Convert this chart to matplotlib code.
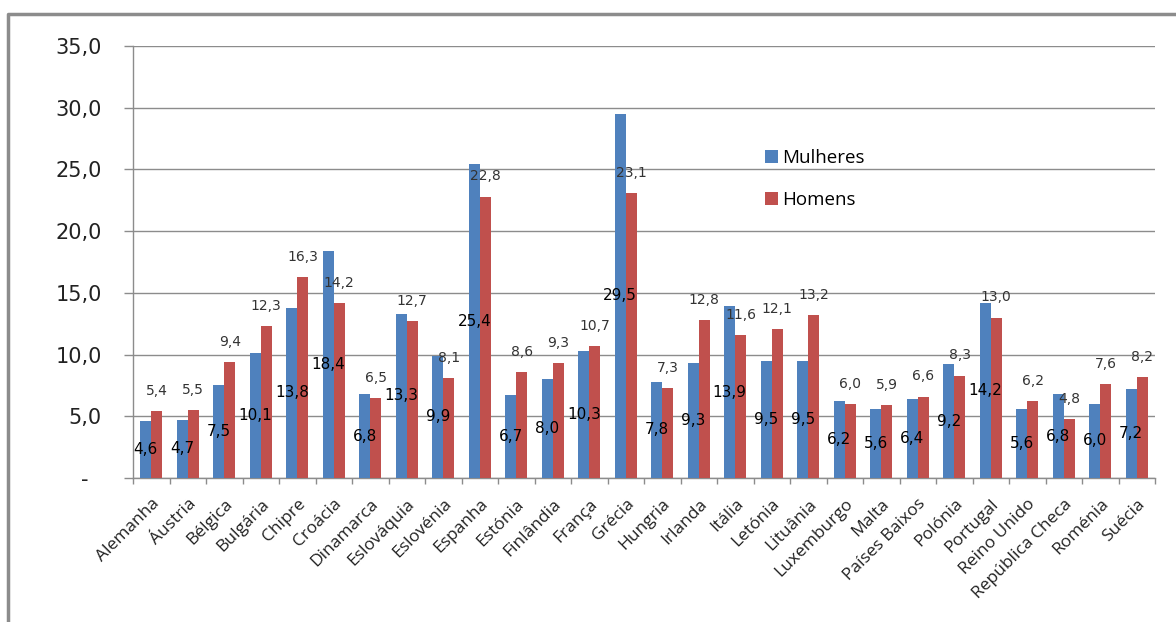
import numpy as np
import matplotlib.pyplot as plt
from matplotlib.lines import Line2D
from matplotlib.ticker import FuncFormatter, MultipleLocator

paises = ['Alemanha', 'Áustria', 'Bélgica', 'Bulgária', 'Chipre', 'Croácia',
          'Dinamarca', 'Eslováquia', 'Eslovénia', 'Espanha', 'Estónia',
          'Finlândia', 'França', 'Grécia', 'Hungria', 'Irlanda', 'Itália',
          'Letónia', 'Lituânia', 'Luxemburgo', 'Malta', 'Países Baixos',
          'Polónia', 'Portugal', 'Reino Unido', 'República Checa', 'Roménia',
          'Suécia']

mulheres = [4.6, 4.7, 7.5, 10.1, 13.8, 18.4, 6.8, 13.3, 9.9, 25.4, 6.7, 8.0,
            10.3, 29.5, 7.8, 9.3, 13.9, 9.5, 9.5, 6.2, 5.6, 6.4, 9.2, 14.2,
            5.6, 6.8, 6.0, 7.2]

homens = [5.4, 5.5, 9.4, 12.3, 16.3, 14.2, 6.5, 12.7, 8.1, 22.8, 8.6, 9.3,
          10.7, 23.1, 7.3, 12.8, 11.6, 12.1, 13.2, 6.0, 5.9, 6.6, 8.3, 13.0,
          6.2, 4.8, 7.6, 8.2]

azul = '#4F81BD'
vermelho = '#C0504D'
cinza = '#8C8C8C'

W, H = 1176, 622
fig = plt.figure(figsize=(W / 100, H / 100), dpi=100)
ax = fig.add_axes([133 / W, 1 - 478 / H, (1155 - 133) / W, (478 - 46) / H])

x = np.arange(len(paises))
larg = 0.3
b1 = ax.bar(x - larg / 2, mulheres, larg, color=azul, label='Mulheres', zorder=3)
b2 = ax.bar(x + larg / 2, homens, larg, color=vermelho, label='Homens', zorder=3)


def fmt(v):
    return '{:.1f}'.format(v).replace('.', ',')


# rótulos: mulheres no meio da barra, homens acima da barra
for xi, v in zip(x - larg / 2, mulheres):
    ax.text(xi, v / 2, fmt(v), ha='center', va='center', fontsize=11,
            color='black', zorder=4)
for xi, v in zip(x + larg / 2, homens):
    ax.annotate(fmt(v), (xi, v), xytext=(0, 14.5), textcoords='offset points',
                ha='center', va='center', fontsize=10, color='#333333', zorder=4)

ax.set_xlim(-0.5, len(paises) - 0.5)
ax.set_ylim(0, 35)
ax.yaxis.set_major_locator(MultipleLocator(5))
ax.yaxis.set_major_formatter(FuncFormatter(lambda v, p: '-  ' if v == 0 else fmt(v)))
ax.grid(axis='y', color=cinza, linewidth=1, zorder=0)
ax.tick_params(axis='y', length=6.5, width=1, color=cinza, pad=16, labelsize=15,
               labelcolor='#222222')

ax.set_xticks(x)
ax.set_xticklabels(paises, rotation=45, ha='right', rotation_mode='anchor',
                   fontsize=12.5, family='Open Sans', color='#222222')
ax.set_xticks(np.arange(len(paises) + 1) - 0.5, minor=True)
ax.tick_params(axis='x', which='major', length=0, pad=13)
ax.tick_params(axis='x', which='minor', length=4, width=1, color=cinza)

for s in ['top', 'right']:
    ax.spines[s].set_visible(False)
for s in ['left', 'bottom']:
    ax.spines[s].set_color(cinza)
    ax.spines[s].set_linewidth(1)

ax.legend(loc='upper left', bbox_to_anchor=((748 - 133) / (1155 - 133), (478 - 132) / (478 - 46)),
          frameon=False, handlelength=0.7, handleheight=0.7, handletextpad=0.2,
          labelspacing=1.3, prop={'family': 'Open Sans', 'size': 13.5})

# moldura do gráfico
fig.add_artist(Line2D([8 / W, 8 / W, 1.0], [0.0, 1 - 14 / H, 1 - 14 / H],
                      color=cinza, linewidth=2.5, transform=fig.transFigure))

fig.savefig('out.png', dpi=100)
